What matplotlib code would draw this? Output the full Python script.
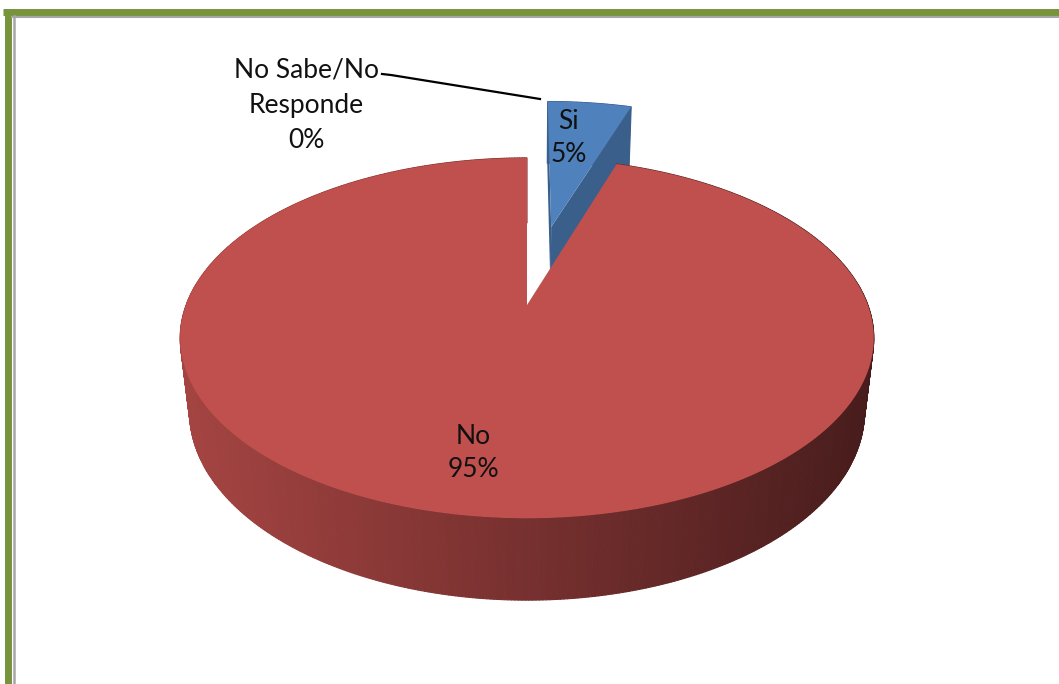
import numpy as np
import matplotlib
matplotlib.use('Agg')
import matplotlib.pyplot as plt
from matplotlib.collections import PolyCollection

labels = ['Si', 'No', 'No Sabe/No\nResponde']
values = [5, 95, 0]
explode = [0.494, 0.0, 0.0]
top_colors = ['#4f81bd', '#c0504d', '#9bbb59']
cut_colors = ['#3a5f8b', '#8e3a38', '#71893f']

# simple perspective camera for the 3D pie
CX, CY = 527, 305
F = 1630.0
XSCALE = 0.985
D = 4.71
ELEV = np.radians(30.2)
DEPTH = 0.25
ce, se = np.cos(ELEV), np.sin(ELEV)


def project(X, Y, Z):
    X, Y, Z = np.asarray(X, float), np.asarray(Y, float), np.asarray(Z, float)
    yc = Z * ce + Y * se
    zc = D + Y * ce - Z * se
    return CX + XSCALE * F * X / zc, CY - F * yc / zc


def wall_color(sx):
    # side gets darker from left to right
    t = np.clip((sx - 180) / (872 - 180), 0, 1)
    left = np.array([0.65, 0.27, 0.26])
    right = np.array([0.28, 0.11, 0.11])
    return left + (right - left) * t


fig = plt.figure(figsize=(10.59, 6.84), dpi=100)
ax = fig.add_axes([0, 0, 1, 1])
ax.set_xlim(0, 1059)
ax.set_ylim(684, 0)
ax.axis('off')

# slice angles, Excel style: start at 12 o'clock, clockwise
total = sum(values)
starts, ends = [], []
a = 90.0
for v in values:
    starts.append(a)
    a -= 360.0 * v / total
    ends.append(a)


def slice_geom(i):
    mid = np.radians((starts[i] + ends[i]) / 2)
    ox, oy = explode[i] * np.cos(mid), explode[i] * np.sin(mid)
    t = np.radians(np.linspace(starts[i], ends[i], max(2, int(abs(starts[i] - ends[i]) * 2))))
    return ox, oy, t


def draw_slice(i, cut_faces):
    if values[i] == 0:
        return
    ox, oy, t = slice_geom(i)
    xs, ys = ox + np.cos(t), oy + np.sin(t)

    # flat cut faces along the radii
    for ang in cut_faces:
        r = np.radians(ang)
        px = [ox, ox + np.cos(r), ox + np.cos(r), ox]
        py = [oy, oy + np.sin(r), oy + np.sin(r), oy]
        pz = [0, 0, -DEPTH, -DEPTH]
        sx, sy = project(px, py, pz)
        ax.fill(sx, sy, color=cut_colors[i], lw=0, zorder=2 + i)

    # outer wall, far pieces first
    quads, cols, depth = [], [], []
    for k in range(len(t) - 1):
        x0, x1, y0, y1 = xs[k], xs[k + 1], ys[k], ys[k + 1]
        sx, sy = project([x0, x1, x1, x0], [y0, y1, y1, y0], [0, 0, -DEPTH, -DEPTH])
        quads.append(np.column_stack([sx, sy]))
        if i == 1:
            cols.append(wall_color(sx.mean()))
        else:
            cols.append(matplotlib.colors.to_rgb(cut_colors[i]))
        depth.append((y0 + y1) / 2)
    order = np.argsort(depth)[::-1]
    pc = PolyCollection([quads[k] for k in order], facecolors=[cols[k] for k in order],
                        edgecolors=[cols[k] for k in order], linewidths=0.8, zorder=2 + i)
    ax.add_collection(pc)

    # top face
    sx, sy = project(np.r_[ox, xs], np.r_[oy, ys], np.zeros(len(xs) + 1))
    ax.fill(sx, sy, color=top_colors[i], lw=0, zorder=2.5 + i)


draw_slice(0, [ends[0], starts[0]])
draw_slice(1, [])

font = dict(family=['Lato', 'DejaVu Sans'], fontsize=19, color='#111111',
            ha='center', va='center', linespacing=1.4, zorder=10)

# labels inside the slices: (slice, radius, angle nudge)
for i, r, nudge in [(0, 0.68, 3.0), (1, 0.75, -1.5)]:
    ox, oy, _ = slice_geom(i)
    ang = np.radians((starts[i] + ends[i]) / 2 + nudge)
    lx, ly = project(ox + r * np.cos(ang), oy + r * np.sin(ang), 0)
    ax.text(lx, ly, f'{labels[i]}\n{values[i]}%', **font)

# zero slice label with leader line
ax.text(306, 105, f'{labels[2]}\n{values[2]}%', **dict(font, linespacing=1.5))
ax.plot([382, 391, 540], [74, 75, 99], color='black', lw=1.6, zorder=10)

# frame
ax.plot([3, 1059], [12, 12], color='#77933c', lw=5, solid_capstyle='butt', zorder=20)
ax.plot([8, 8], [10, 684], color='#77933c', lw=5, solid_capstyle='butt', zorder=20)
ax.plot([12, 1059], [16.5, 16.5], color='#a6a6a6', lw=1.5, zorder=20)
ax.plot([14, 14], [16, 684], color='#a6a6a6', lw=1.8, zorder=20)

fig.savefig('out.png', dpi=100, facecolor='white')
